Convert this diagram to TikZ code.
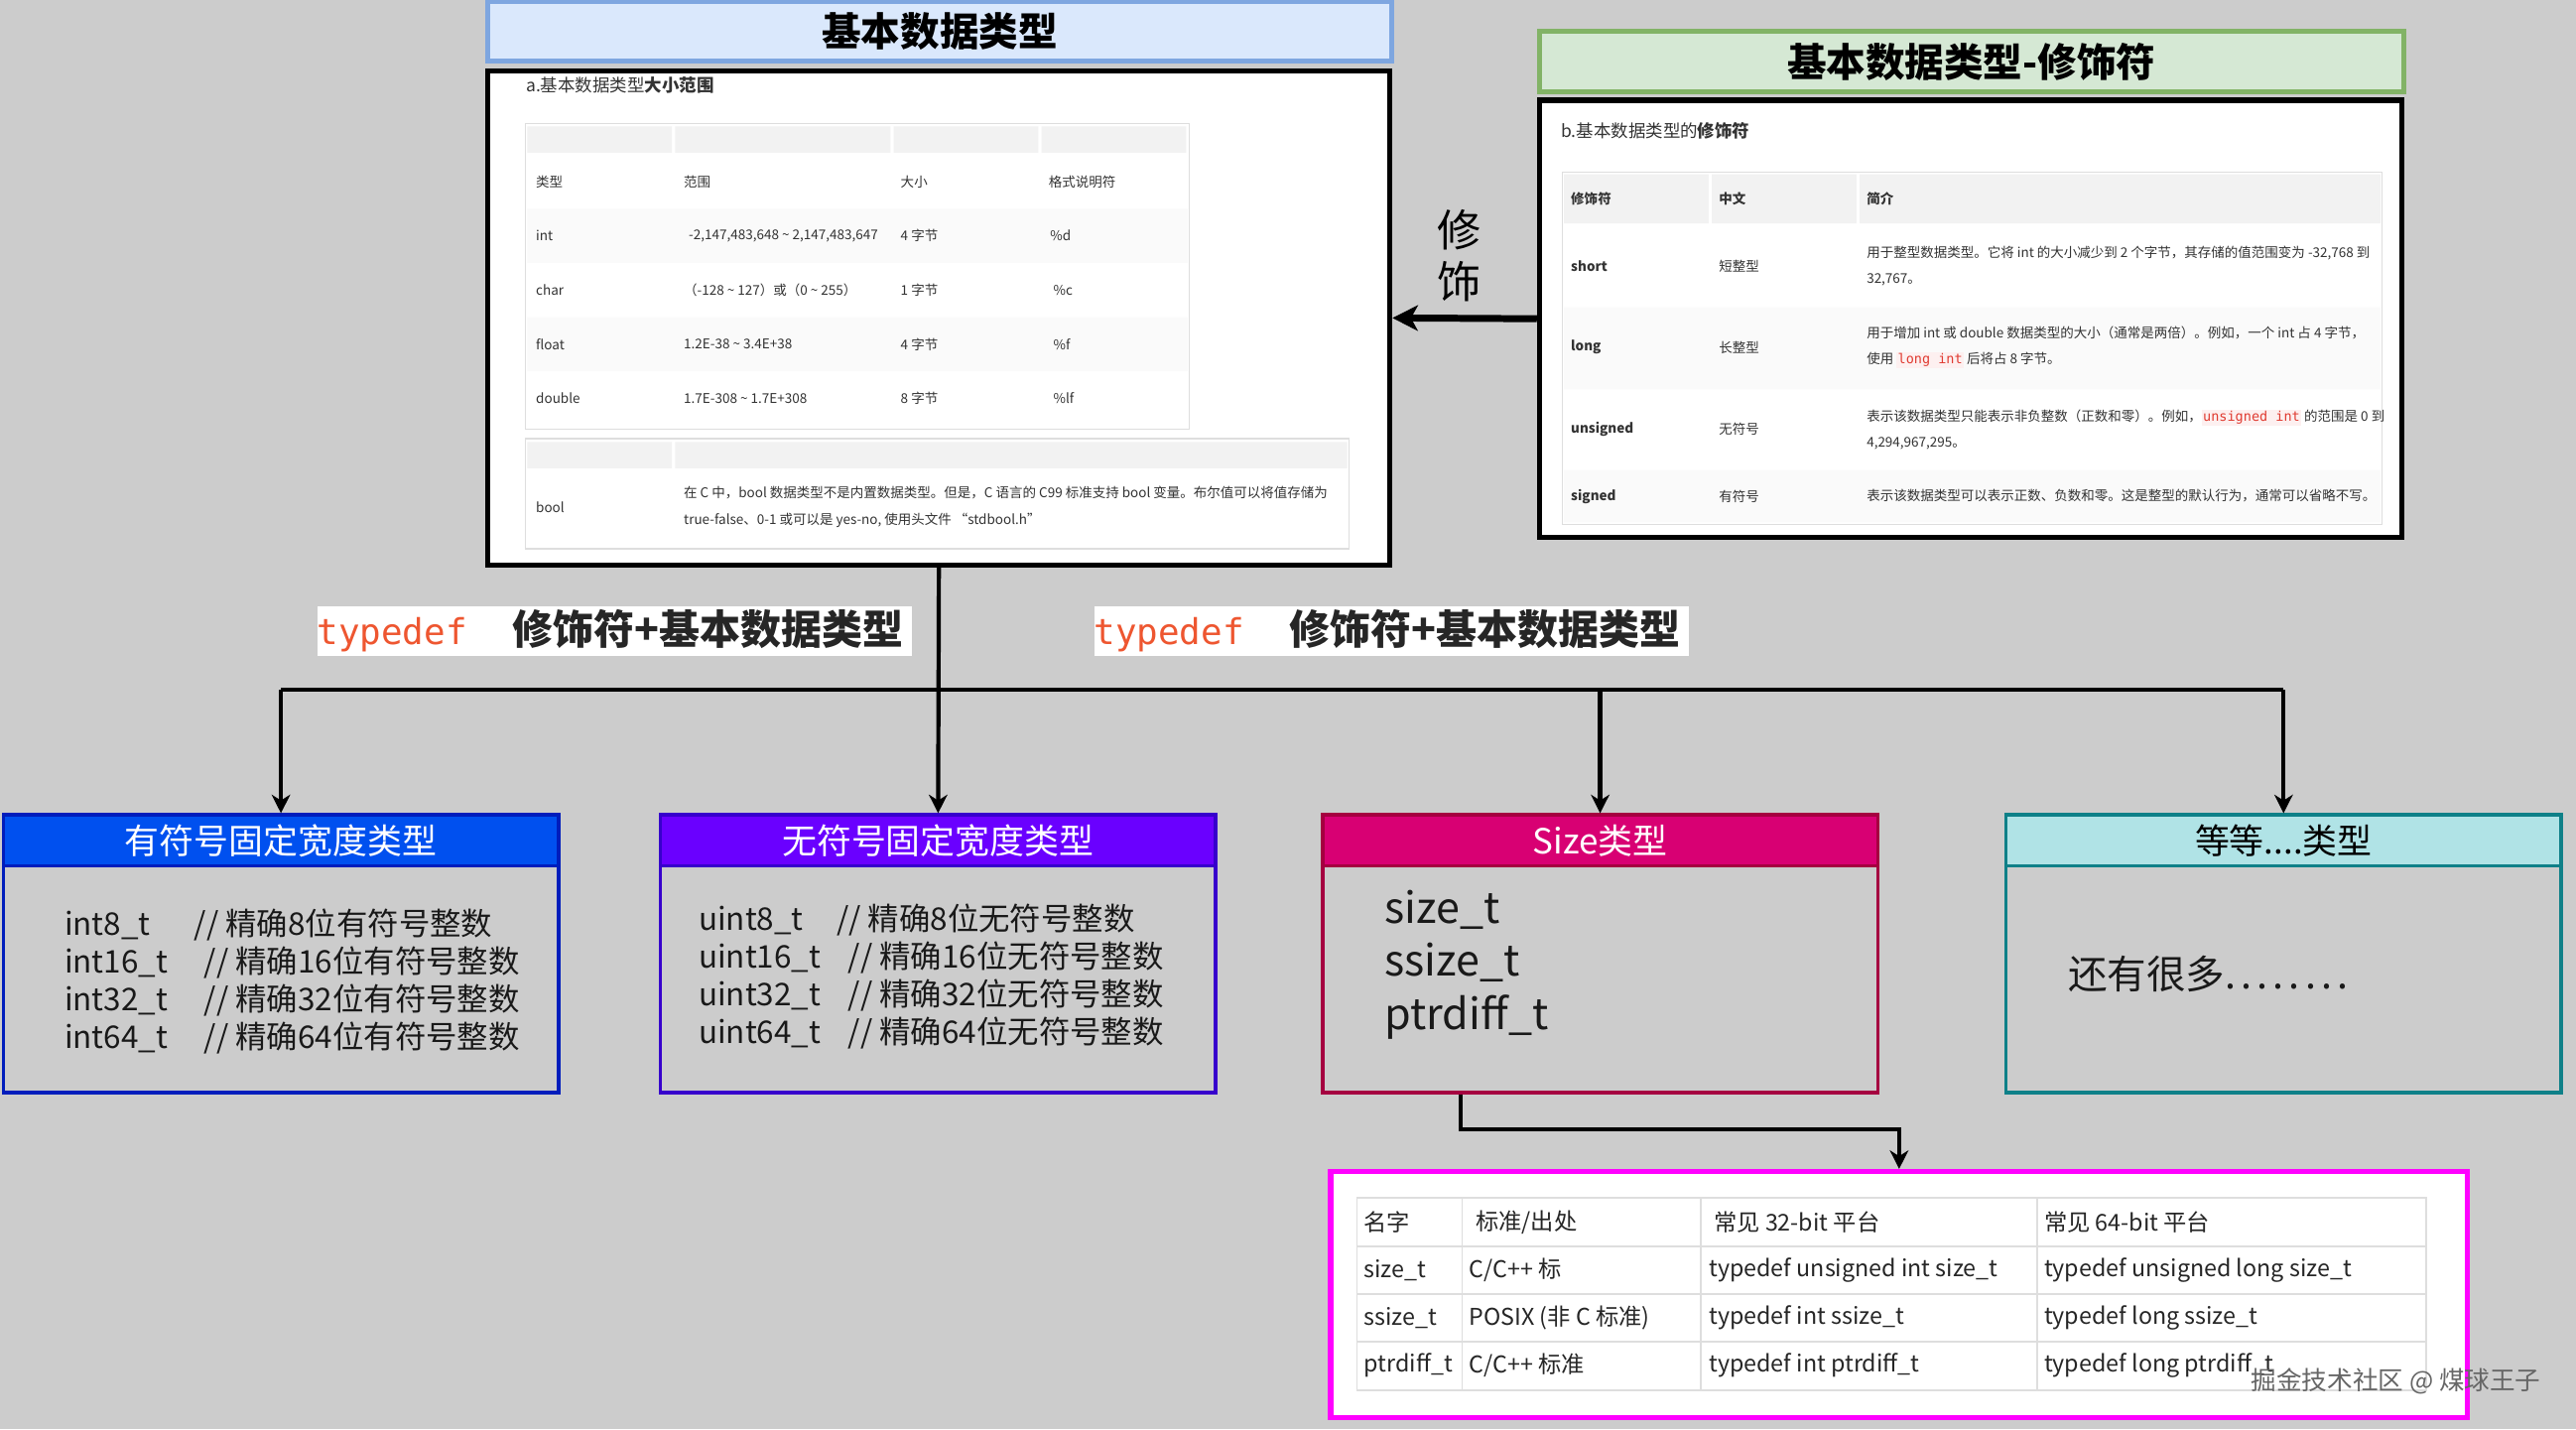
\documentclass[tikz,border=0pt]{standalone}
\usepackage{fontspec}
\setmainfont{Noto Sans CJK SC}
\setmonofont{DejaVu Sans Mono}
\usetikzlibrary{arrows.meta}

\newlength{\pxu}
\setlength{\pxu}{0.025cm}

\definecolor{bgGray}{RGB}{204,204,204}
\definecolor{ttlBlueF}{RGB}{218,232,252}
\definecolor{ttlBlueD}{RGB}{126,166,224}
\definecolor{ttlGreenF}{RGB}{213,232,212}
\definecolor{ttlGreenD}{RGB}{130,179,102}
\definecolor{laneBlue}{RGB}{0,80,239}
\definecolor{laneBlueD}{RGB}{0,29,188}
\definecolor{lanePurple}{RGB}{106,0,255}
\definecolor{lanePurpleD}{RGB}{55,0,204}
\definecolor{lanePink}{RGB}{216,0,115}
\definecolor{lanePinkD}{RGB}{165,0,64}
\definecolor{laneCyan}{RGB}{176,227,230}
\definecolor{laneCyanD}{RGB}{14,128,136}
\definecolor{tdRed}{RGB}{238,86,48}
\definecolor{codeRed}{RGB}{224,60,50}
\definecolor{codeBg}{RGB}{253,240,240}
\definecolor{sizeMag}{RGB}{255,0,255}
\definecolor{hdrGray}{RGB}{242,242,242}
\definecolor{rowGray}{RGB}{250,250,250}
\definecolor{lineGray}{RGB}{222,222,222}

\newcommand{\codebit}[1]{{\setlength{\fboxsep}{0.6pt}\colorbox{codeBg}{\ttfamily\color{codeRed}#1}}}

\begin{document}
\begin{tikzpicture}[x=0.025cm, y=-0.025cm,
  ttl/.style={draw, line width=2pt, inner sep=0pt, font=\bfseries\fontsize{17}{20}\selectfont},
  pnl/.style={draw=black, fill=white, line width=2.2pt, inner sep=0pt},
  capt/.style={anchor=west, inner sep=0pt, text=black!80, font=\fontsize{7.5}{9}\selectfont},
  cell/.style={anchor=west, inner sep=0pt, text=black!80, align=left, font=\fontsize{5.8}{11.3}\selectfont},
  tline/.style={draw=lineGray, line width=0.5pt},
  tdlbl/.style={fill=white, inner sep=0pt, minimum height=30*\pxu, text width=362*\pxu, align=left,
    text=black!85, font=\fontsize{17.6}{20}\selectfont},
  lane/.style={draw, line width=1.5pt, minimum width=338*\pxu, minimum height=169*\pxu, inner sep=0pt},
  laneh/.style={draw, line width=1.5pt, minimum width=338*\pxu, minimum height=31*\pxu, inner sep=0pt,
    anchor=north, text=white, font=\fontsize{15}{18}\selectfont},
  lanetxt/.style={anchor=west, inner sep=0pt, align=left, text=black!90, font=\fontsize{13.5}{16.3}\selectfont},
  stxt/.style={anchor=west, inner sep=0pt, text=black!85, font=\fontsize{10}{12}\selectfont},
  conn/.style={line width=1.8pt},
  arr/.style={conn, -{Stealth[length=8pt, width=8pt, inset=2.5pt]}},
  modarr/.style={line width=3pt, -{Stealth[length=11pt, width=11pt, inset=3pt]}}]

  \useasboundingbox (0,0) rectangle (1568,870);
  \fill[bgGray] (0,0) rectangle (1568,870);

  % Titoli
  \node[ttl, fill=ttlBlueF, draw=ttlBlueD, minimum width=550*\pxu, minimum height=36*\pxu] (tA) at (572,19) {基本数据类型};
  \node[ttl, fill=ttlGreenF, draw=ttlGreenD, minimum width=526*\pxu, minimum height=37*\pxu] (tB) at (1200,37.5) {基本数据类型-修饰符};

  % Pannello a
  \node[pnl, minimum width=549*\pxu, minimum height=301*\pxu] (pA) at (571.5,193.5) {};
  \node[capt] (capA) at (320,52) {a.基本数据类型\textbf{大小范围}};
  \fill[hdrGray] (321,77) rectangle (409,93) (411,77) rectangle (542,93) (544,77) rectangle (632,93) (634,77) rectangle (722,93);
  \fill[rowGray] (321,127) rectangle (723,160) (321,193) rectangle (723,226);
  \draw[tline] (320,75) rectangle (724,261);
  \fill[hdrGray] (321,269) rectangle (409,285) (411,269) rectangle (820,285);
  \draw[tline] (320,267) rectangle (821,334);
  \node[cell] (aH1) at (326,110.5) {类型};
  \node[cell] (aH2) at (416,110.5) {范围};
  \node[cell] (aH3) at (548,110.5) {大小};
  \node[cell] (aH4) at (638,110.5) {格式说明符};
  \node[cell] (aI1) at (326,143.5) {int};
  \node[cell] (aI2) at (419,143.5) {-2,147,483,648 \textasciitilde{} 2,147,483,647};
  \node[cell] (aI3) at (548,143.5) {4 字节};
  \node[cell] (aI4) at (639,143.5) {\%d};
  \node[cell] (aC1) at (326,176.5) {char};
  \node[cell] (aC2) at (416,176.5) {（-128 \textasciitilde{} 127）或（0 \textasciitilde{} 255）};
  \node[cell] (aC3) at (548,176.5) {1 字节};
  \node[cell] (aC4) at (641,176.5) {\%c};
  \node[cell] (aF1) at (326,209.5) {float};
  \node[cell] (aF2) at (416,209.5) {1.2E-38 \textasciitilde{} 3.4E+38};
  \node[cell] (aF3) at (548,209.5) {4 字节};
  \node[cell] (aF4) at (641,209.5) {\%f};
  \node[cell] (aD1) at (326,242.5) {double};
  \node[cell] (aD2) at (416,242.5) {1.7E-308 \textasciitilde{} 1.7E+308};
  \node[cell] (aD3) at (548,242.5) {8 字节};
  \node[cell] (aD4) at (641,242.5) {\%lf};
  \node[cell] (aB1) at (326,308.5) {bool};
  \node[cell] (aB2) at (416,308.5) {在 C 中，bool 数据类型不是内置数据类型。但是，C 语言的 C99 标准支持 bool 变量。布尔值可以将值存储为\\true-false、0-1 或可以是 yes-no, 使用头文件 “stdbool.h”};

  % Pannello b
  \node[pnl, minimum width=525*\pxu, minimum height=266*\pxu] (pB) at (1199.5,194) {};
  \node[capt] (capB) at (950,79.5) {b.基本数据类型的\textbf{修饰符}};
  \fill[hdrGray] (952,106) rectangle (1040,136) (1042,106) rectangle (1130,136) (1132,106) rectangle (1449,136);
  \fill[rowGray] (952,187) rectangle (1449,237) (952,286) rectangle (1449,318);
  \draw[tline] (951,105) rectangle (1450,319);
  \node[cell] (bH1) at (956,121) {\textbf{修饰符}};
  \node[cell] (bH2) at (1046,121) {\textbf{中文}};
  \node[cell] (bH3) at (1136,121) {\textbf{简介}};
  \node[cell] (bS1) at (956,162) {\textbf{short}};
  \node[cell] (bS2) at (1046,162) {短整型};
  \node[cell] (bS3) at (1136,162) {用于整型数据类型。它将 int 的大小减少到 2 个字节，其存储的值范围变为 -32,768 到\\32,767。};
  \node[cell] (bL1) at (956,211.5) {\textbf{long}};
  \node[cell] (bL2) at (1046,211.5) {长整型};
  \node[cell] (bL3) at (1136,211.5) {用于增加 int 或 double 数据类型的大小（通常是两倍）。例如，一个 int 占 4 字节，\\使用 \codebit{long int} 后将占 8 字节。};
  \node[cell] (bU1) at (956,261) {\textbf{unsigned}};
  \node[cell] (bU2) at (1046,261) {无符号};
  \node[cell] (bU3) at (1136,261.5) {表示该数据类型只能表示非负整数（正数和零）。例如，\codebit{unsigned int} 的范围是 0 到\\4,294,967,295。};
  \node[cell] (bG1) at (956,302) {\textbf{signed}};
  \node[cell] (bG2) at (1046,302) {有符号};
  \node[cell] (bG3) at (1136,302) {表示该数据类型可以表示正数、负数和零。这是整型的默认行为，通常可以省略不写。};

  % Freccia modificatori
  \draw[modarr] (pB.west) -- (pA.east);
  \node[align=center, inner sep=0pt, font=\fontsize{19}{22.5}\selectfont] (modLbl) at (888.5,155.5) {修\\饰};

  % Etichette typedef
  \node[tdlbl] (td1) at (374,384) {\makebox[119\pxu][l]{\ttfamily\fontsize{15.4}{18}\selectfont\color{tdRed}typedef}\textbf{修饰符+基本数据类型}};
  \node[tdlbl] (td2) at (847,384) {\makebox[119\pxu][l]{\ttfamily\fontsize{15.4}{18}\selectfont\color{tdRed}typedef}\textbf{修饰符+基本数据类型}};

  % Riquadri
  \node[lane, draw=laneBlueD] (b1) at (171,580.5) {};
  \node[laneh, fill=laneBlue, draw=laneBlueD] (b1h) at (b1.north) {有符号固定宽度类型};
  \node[lanetxt] (b1t) at (39,597.2) {\makebox[79\pxu][l]{int8\_t}// 精确8位有符号整数\\
    \makebox[85\pxu][l]{int16\_t}// 精确16位有符号整数\\
    \makebox[85\pxu][l]{int32\_t}// 精确32位有符号整数\\
    \makebox[85\pxu][l]{int64\_t}// 精确64位有符号整数};

  \node[lane, draw=lanePurpleD] (b2) at (571,580.5) {};
  \node[laneh, fill=lanePurple, draw=lanePurpleD] (b2h) at (b2.north) {无符号固定宽度类型};
  \node[lanetxt] (b2t) at (425,594.3) {\makebox[84\pxu][l]{uint8\_t}// 精确8位无符号整数\\
    \makebox[91\pxu][l]{uint16\_t}// 精确16位无符号整数\\
    \makebox[91\pxu][l]{uint32\_t}// 精确32位无符号整数\\
    \makebox[91\pxu][l]{uint64\_t}// 精确64位无符号整数};

  \node[lane, draw=lanePinkD] (b3) at (974,580.5) {};
  \node[laneh, fill=lanePink, draw=lanePinkD] (b3h) at (b3.north) {Size类型};
  \node[lanetxt, font=\fontsize{18.5}{23}\selectfont] (b3t) at (842.6,587.2) {size\_t\\ssize\_t\\ptrdiff\_t};

  \node[lane, draw=laneCyanD] (b4) at (1390,580.5) {};
  \node[laneh, fill=laneCyan, draw=laneCyanD, text=black] (b4h) at (b4.north) {等等....类型};
  \node[lanetxt, font=\fontsize{17}{20}\selectfont] (b4t) at (1258.5,592.8) {还有很多.\kern2.2pt.\kern2.2pt.\kern2.2pt.\kern2.2pt.\kern2.2pt.\kern2.2pt.\kern2.2pt.};

  % Pannello size
  \node[pnl, draw=sizeMag, minimum width=692*\pxu, minimum height=150*\pxu] (pk) at (1156,788) {};
  \draw[tline, line width=0.8pt] (826,729) rectangle (1477,846)
    (826,758.5) -- (1477,758.5) (826,787.5) -- (1477,787.5) (826,816.5) -- (1477,816.5)
    (890,729) -- (890,846) (1035,729) -- (1035,846) (1240,729) -- (1240,846);
  \node[stxt] (s11) at (830,744) {名字};
  \node[stxt] (s12) at (898,744) {标准/出处};
  \node[stxt] (s13) at (1043,744) {常见 32-bit 平台};
  \node[stxt] (s14) at (1244,744) {常见 64-bit 平台};
  \node[stxt] (s21) at (830,773) {size\_t};
  \node[stxt] (s22) at (894,773) {C/C++ 标};
  \node[stxt] (s23) at (1040,773) {typedef unsigned int size\_t};
  \node[stxt] (s24) at (1244,773) {typedef unsigned long size\_t};
  \node[stxt] (s31) at (830,802) {ssize\_t};
  \node[stxt] (s32) at (894,802) {POSIX (非 C 标准)};
  \node[stxt] (s33) at (1040,802) {typedef int ssize\_t};
  \node[stxt] (s34) at (1244,802) {typedef long ssize\_t};
  \node[stxt] (s41) at (830,831) {ptrdiff\_t};
  \node[stxt] (s42) at (894,831) {C/C++ 标准};
  \node[stxt] (s43) at (1040,831) {typedef int ptrdiff\_t};
  \node[stxt] (s44) at (1244,831) {typedef long ptrdiff\_t};
  \node[anchor=west, inner sep=0pt, text=black!60, font=\fontsize{11}{13}\selectfont] (wm) at (1370,840.6) {掘金技术社区 @ 煤球王子};

  % Archi
  \coordinate (hub) at (571,420);
  \draw[conn] (b1.north |- hub) -- (b4.north |- hub);
  \draw[arr] (pA.south) -- (b2.north);
  \draw[arr] (b1.north |- hub) -- (b1.north);
  \draw[arr] (b3.north |- hub) -- (b3.north);
  \draw[arr] (b4.north |- hub) -- (b4.north);
  \draw[arr] ([xshift=-85*\pxu]b3.south) |- ([yshift=24*\pxu]pk.north) -- (pk.north);
\end{tikzpicture}
\end{document}
